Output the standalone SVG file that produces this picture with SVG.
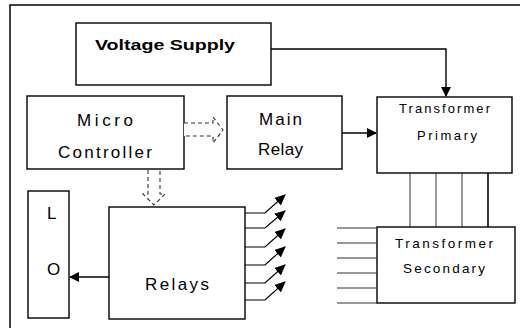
<svg xmlns="http://www.w3.org/2000/svg" width="520" height="328" viewBox="0 0 520 328">
<defs>
<style>
.box{fill:#fff;stroke:#000;stroke-width:1.4}
.t{font-family:"Liberation Sans",Arial,sans-serif;fill:#000}
.c{stroke:#000;stroke-width:1.4;fill:none}
.thin{stroke:#333;stroke-width:1;fill:none}
.sw{stroke:#000;stroke-width:1.2;fill:none}
.dash{fill:#fff;stroke:#333;stroke-width:1.1;stroke-dasharray:4 3}
</style>
<marker id="ah" markerWidth="11" markerHeight="10" refX="10" refY="5" orient="auto" markerUnits="userSpaceOnUse">
<path d="M0,0 L11,5 L0,10 Z" fill="#000"/>
</marker>
<marker id="ah2" markerWidth="10" markerHeight="10" refX="9" refY="5" orient="auto" markerUnits="userSpaceOnUse">
<path d="M0,0 L10,5 L0,10 Z" fill="#000"/>
</marker>
</defs>
<rect width="520" height="328" fill="#fff"/>
<rect x="10" y="5" width="530" height="340" fill="none" stroke="#000" stroke-width="1.5"/>

<g id="voltage-supply">
<rect class="box" x="76" y="23" width="195" height="62"/>
<text class="t" x="95" y="50" font-size="14" font-weight="bold" textLength="140" lengthAdjust="spacingAndGlyphs">Voltage Supply</text>
</g>
<g id="micro-controller">
<rect class="box" x="27" y="96" width="157" height="73"/>
<text class="t" x="77" y="126" font-size="17" textLength="56" lengthAdjust="spacing">Micro</text>
<text class="t" x="58" y="158" font-size="17" textLength="94" lengthAdjust="spacing">Controller</text>
</g>
<g id="main-relay">
<rect class="box" x="227" y="96" width="115" height="73"/>
<text class="t" x="259" y="125" font-size="17" textLength="43" lengthAdjust="spacing">Main</text>
<text class="t" x="258" y="155" font-size="17" textLength="45" lengthAdjust="spacing">Relay</text>
</g>
<g id="transformer-primary">
<rect class="box" x="377" y="97" width="135" height="76"/>
<text class="t" x="399" y="113" font-size="13" textLength="91" lengthAdjust="spacing">Transformer</text>
<text class="t" x="417" y="140" font-size="13" textLength="60" lengthAdjust="spacing">Primary</text>
</g>
<g id="lo">
<rect class="box" x="28" y="191" width="41" height="127"/>
<text class="t" x="47" y="219" font-size="17">L</text>
<text class="t" x="47" y="275" font-size="17">O</text>
</g>
<g id="relays">
<rect class="box" x="109" y="207" width="136" height="112"/>
<text class="t" x="145" y="290" font-size="17" textLength="64" lengthAdjust="spacing">Relays</text>
</g>
<g id="transformer-secondary">
<rect class="box" x="377" y="227" width="138" height="76"/>
<text class="t" x="395" y="248" font-size="13.5" textLength="98" lengthAdjust="spacing">Transformer</text>
<text class="t" x="403" y="273" font-size="13.5" textLength="82" lengthAdjust="spacing">Secondary</text>
</g>

<g id="connectors">
<path class="c" d="M271,49 H446 V96" marker-end="url(#ah2)"/>
<path class="c" d="M342,133 H376" marker-end="url(#ah2)"/>
<path class="c" d="M109,277 H70" marker-end="url(#ah2)"/>
<path class="dash" d="M184,123 H213 V117 L223,130 L213,143 V136 H184"/>
<path class="dash" d="M148,170 V194 H143 L154,205 L165,194 H160 V170"/>
<g class="thin">
<line x1="410" y1="173" x2="410" y2="227"/>
<line x1="436" y1="173" x2="436" y2="227"/>
<line x1="462" y1="173" x2="462" y2="227"/>
</g>
<line x1="488" y1="173" x2="488" y2="227" stroke="#000" stroke-width="1.6"/>
<g class="thin">
<line x1="337" y1="228" x2="377" y2="228"/>
<line x1="337" y1="243" x2="377" y2="243"/>
<line x1="337" y1="258" x2="377" y2="258"/>
<line x1="337" y1="273" x2="377" y2="273"/>
<line x1="337" y1="288" x2="377" y2="288"/>
<line x1="337" y1="303" x2="377" y2="303"/>
</g>
<g class="sw">
<path d="M245,213 H265 L285,195" marker-end="url(#ah)"/>
<path d="M245,228 H265 L285,211" marker-end="url(#ah)"/>
<path d="M245,247 H265 L285,229" marker-end="url(#ah)"/>
<path d="M245,265 H265 L285,247" marker-end="url(#ah)"/>
<path d="M245,283 H265 L285,265" marker-end="url(#ah)"/>
<path d="M245,300 H265 L285,282" marker-end="url(#ah)"/>
</g>
</g>
</svg>
